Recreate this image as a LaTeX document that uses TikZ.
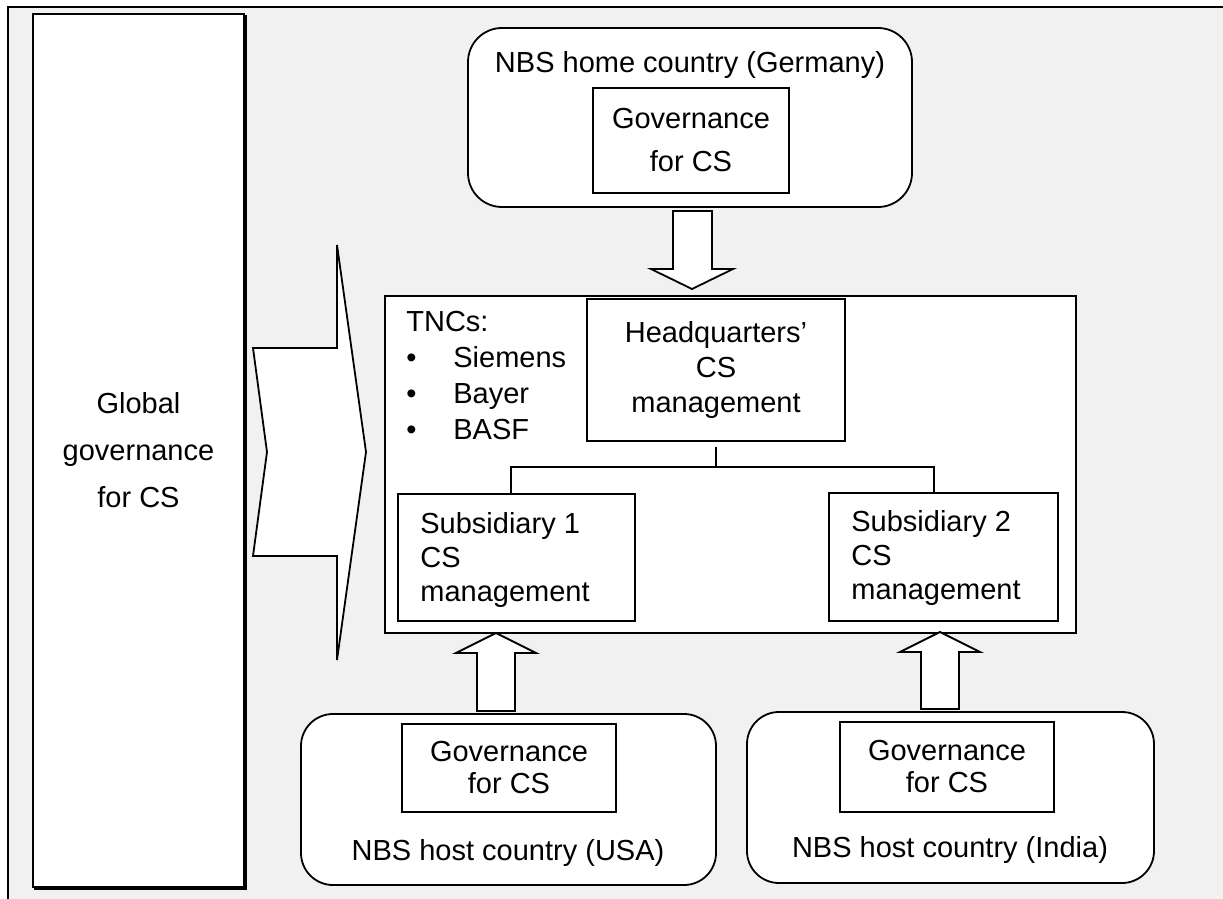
\documentclass[tikz,border=0pt]{standalone}
\usepackage{fontspec}
\setmainfont{Liberation Sans}
\usetikzlibrary{fit}
\definecolor{panel}{RGB}{241,241,241}
\definecolor{shade}{RGB}{120,120,120}
\tikzset{
  box/.style={draw, fill=white, line width=0.9pt, inner sep=0pt},
  rbox/.style={box, rounded corners=16pt},
  txt/.style={font=\fontsize{14.5}{17.5}\selectfont, inner sep=0pt},
  blockarrow/.style={draw, fill=white, line width=0.9pt, line join=miter},
  tree/.style={line width=0.9pt},
}
\begin{document}
\begin{tikzpicture}[x=0.5pt,y=-0.5pt]
\useasboundingbox (0,0) rectangle (1223,899);
% grey panel with its frame
\fill[panel] (8,7) rectangle (1240,920);
\draw[line width=1.3pt] (8,920) -- (8,7) -- (1240,7);

% global governance column
\draw[shade, line width=0.9pt] (35,16) rectangle (246,889);
\node[box, line width=1pt, fit={(33,14)(244,887)}] (global) {};
\node[txt, align=center, font=\fontsize{14.5}{23.5}\selectfont] (globaltxt) at (global.center) {Global\\governance\\for CS};

% chevron arrow
\draw[blockarrow] (253,348) -- (337,348) -- (337,245) -- (366,452) -- (337,660)
  -- (337,556) -- (253,556) -- (267,452) -- cycle;

% home country
\node[rbox, rounded corners=17pt, fit={(468,28)(912,207)}] (home) {};
\node[txt, anchor=center] (hometxt) at (690,65) {NBS home country (Germany)};
\node[box, fit={(593,88)(789,193)}] (govhome) {};
\node[txt, align=center, font=\fontsize{14.5}{21.5}\selectfont] (govhometxt) at (govhome.center) {Governance\\for CS};

% down arrow
\draw[blockarrow] (673,211) -- (712,211) -- (712,269) -- (733,269) -- (692,289)
  -- (651,269) -- (673,269) -- cycle;

% TNC frame
\node[box, fit={(385,296)(1076,633)}] (tnc) {};
\node[txt, align=left, anchor=north west, font=\fontsize{14.5}{18}\selectfont] (tnclist) at (406,311)
  {TNCs:\\\makebox[23.5pt][l]{•}Siemens\\\makebox[23.5pt][l]{•}Bayer\\\makebox[23.5pt][l]{•}BASF};

\node[box, fit={(587,299)(845,441)}] (hq) {};
\node[txt, align=center] (hqtxt) at (hq.center) {Headquarters’\\CS\\management};

\node[box, fit={(398,494)(635,621)}] (sub1) {};
\node[txt, align=left, anchor=west, font=\fontsize{14.5}{17}\selectfont] (sub1txt) at (420,560) {Subsidiary 1\\CS\\management};
\node[box, fit={(829,493)(1058,621)}] (sub2) {};
\node[txt, align=left, anchor=west, font=\fontsize{14.5}{17}\selectfont] (sub2txt) at (851,558) {Subsidiary 2\\CS\\management};

% reporting lines
\coordinate (busL) at (511,467);
\coordinate (busR) at (934,467);
\draw[tree] ([yshift=-2.5pt]hq.south) -- (hq.south |- busL);
\draw[tree] (busL |- sub1.north) -- (busL) -- (busR) -- (busR |- sub2.north);

% host countries
\node[rbox, fit={(301,714)(716,885)}] (usa) {};
\node[box, fit={(402,724)(616,812)}] (govusa) {};
\node[txt, align=center, font=\fontsize{14.5}{16}\selectfont] (govusatxt) at (govusa.center) {Governance\\for CS};
\node[txt] (usatxt) at (508,853) {NBS host country (USA)};

\node[rbox, fit={(747,712)(1154,883)}] (india) {};
\node[box, fit={(840,722)(1054,812)}] (govindia) {};
\node[txt, align=center, font=\fontsize{14.5}{16}\selectfont] (govindiatxt) at (govindia.center) {Governance\\for CS};
\node[txt] (indiatxt) at (950,850) {NBS host country (India)};

% up arrows
\draw[blockarrow] (477,711) -- (477,653) -- (456,653) -- (496,633) -- (536,653)
  -- (515,653) -- (515,711) -- cycle;
\draw[blockarrow] (921,709) -- (921,652) -- (900,652) -- (940,632) -- (980,652)
  -- (959,652) -- (959,709) -- cycle;
\end{tikzpicture}
\end{document}
